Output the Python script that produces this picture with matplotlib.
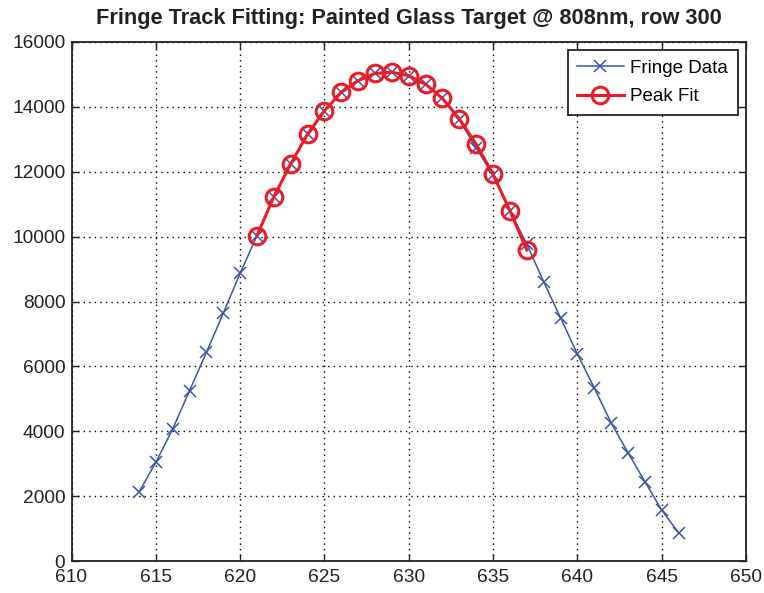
import matplotlib
matplotlib.use("Agg")
import matplotlib.pyplot as plt

plt.rcParams['font.family'] = ['Liberation Sans', 'DejaVu Sans']

# Fringe data (pixel column vs intensity)
data_x = list(range(614, 647))
data_y = [2120, 3040, 4070, 5250, 6430, 7640, 8870, 10030, 11230, 12240,
          13160, 13880, 14450, 14810, 15030, 15070, 14960, 14700, 14260, 13600,
          12720, 11900, 10800, 9770, 8610, 7500, 6380, 5340, 4260, 3340,
          2450, 1570, 870]

# Peak fit over the central region
fit_x = list(range(621, 638))
fit_y = [10030, 11230, 12240, 13160, 13880, 14450, 14810, 15030, 15070, 14960,
         14700, 14260, 13630, 12850, 11920, 10800, 9590]

x_ticks = [610, 615, 620, 625, 630, 635, 640, 645, 650]
y_ticks = [0, 2000, 4000, 6000, 8000, 10000, 12000, 14000, 16000]

fig = plt.figure(figsize=(7.64, 5.93), dpi=100)
ax = fig.add_axes([71.5/764, 32/593, 674.5/764, 519/593])

ax.plot(data_x, data_y, color='#3a55a8', lw=1.1, marker='x', ms=9, mew=1.1,
        label='Fringe Data')
ax.plot(fit_x, fit_y, color='#ec1c24', lw=2.2, marker='o', ms=12, mew=2.2,
        mfc='none', label='Peak Fit')

ax.set_xlim(610, 650)
ax.set_ylim(0, 16000)
ax.set_xticks(x_ticks)
ax.set_yticks(y_ticks)
ax.tick_params(direction='in', length=5, width=1, labelsize=13.8, colors='#222222',
               top=True, right=True)
ax.tick_params(axis='y', pad=4.5)
ax.tick_params(axis='x', pad=6)
ax.grid(True, color='black', linestyle=(0, (1, 3)), linewidth=1)
for s in ax.spines.values():
    s.set_linewidth(1.3)
    s.set_color('#222222')

ax.set_title('Fringe Track Fitting: Painted Glass Target @ 808nm, row 300',
             fontsize=15.7, fontweight='bold', color='#222222', pad=13)

leg = ax.legend(loc='upper right', fontsize=13.5, fancybox=False, framealpha=1,
                edgecolor='#222222', borderaxespad=0.45, handlelength=2.5,
                handletextpad=0.35, borderpad=0.5, labelspacing=0.6)
leg.get_frame().set_linewidth(1.3)

fig.savefig('out.png', dpi=100)
